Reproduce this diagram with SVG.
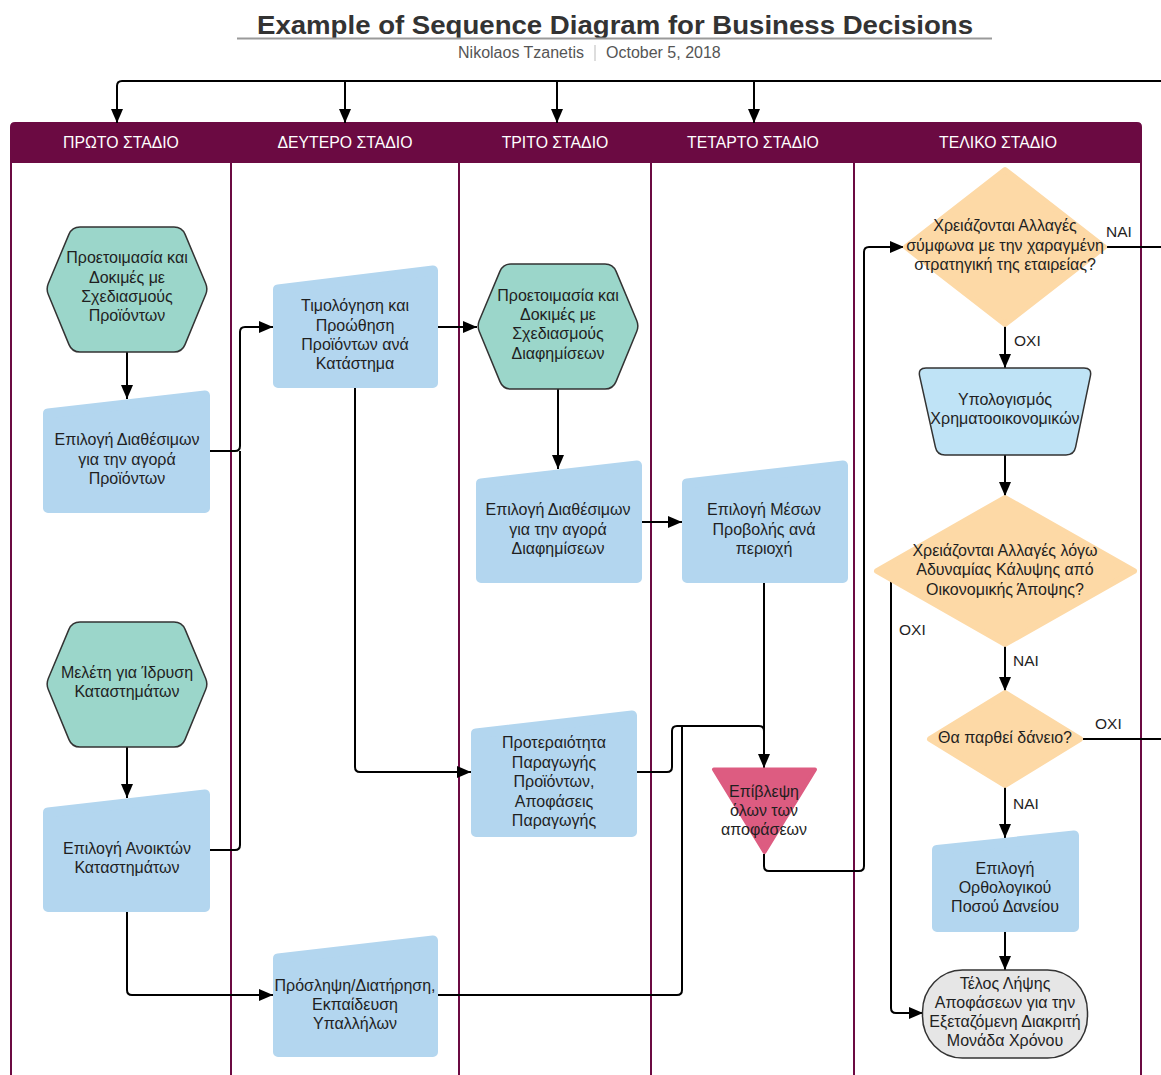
<svg xmlns="http://www.w3.org/2000/svg" width="1161" height="1075" viewBox="0 0 1161 1075">
<style>
text{font-family:"Liberation Sans",Arial,sans-serif;}
.t{font-size:16px;fill:#1f1f1f;text-anchor:middle;}
.lbl{font-size:15.5px;fill:#1f1f1f;}
.hd{font-size:15.8px;fill:#ffffff;text-anchor:middle;}
.lane{stroke:#6b0a42;stroke-width:2;fill:none;}
.hex{fill:#9bd6ca;stroke:#333;stroke-width:1.5;}
.mi{fill:#b3d6ef;stroke:#b3d6ef;stroke-width:10;stroke-linejoin:round;}
.dia{fill:#fdd9a6;stroke:#fdd9a6;stroke-width:6;stroke-linejoin:round;}
.c{fill:none;stroke:#000;stroke-width:2;}
.ca{fill:none;stroke:#000;stroke-width:2;marker-end:url(#ah);}
</style>
<defs>
<marker id="ah" markerUnits="userSpaceOnUse" viewBox="0 0 14 12" refX="14" refY="6" markerWidth="14" markerHeight="12" orient="auto">
<path d="M0,0 L14,6 L0,12 Z" fill="#000"/>
</marker>
<path id="hexshape" d="M34,0 L128,0 Q136,0 139.1,7.4 L159.7,56.5 Q162,62 159.7,67.5 L139,117.6 Q136,125 128,125 L34,125 Q26,125 23,117.6 L2.3,67.5 Q0,62 2.3,56.5 L22.9,7.4 Q26,0 34,0 Z"/>
</defs>
<rect x="0" y="0" width="1161" height="1075" fill="#ffffff"/>

<g id="title">
<text x="615" y="34" font-size="26" font-weight="bold" fill="#333" text-anchor="middle" textLength="716" lengthAdjust="spacingAndGlyphs">Example of Sequence Diagram for Business Decisions</text>
<line x1="237" y1="38.5" x2="992" y2="38.5" stroke="#9a9a9a" stroke-width="2"/>
<text x="584" y="58" font-size="16" fill="#555" text-anchor="end">Nikolaos Tzanetis</text>
<line x1="595" y1="45" x2="595" y2="61" stroke="#bbb" stroke-width="1"/>
<text x="606" y="58" font-size="16" fill="#555">October 5, 2018</text>
</g>

<g id="lanes">
<path d="M10,163 L10,127 Q10,122 15,122 L1137,122 Q1142,122 1142,127 L1142,163 Z" fill="#6b0a42"/>
<line class="lane" x1="11" y1="162" x2="11" y2="1075"/>
<line class="lane" x1="231" y1="162" x2="231" y2="1075"/>
<line class="lane" x1="459" y1="162" x2="459" y2="1075"/>
<line class="lane" x1="651" y1="162" x2="651" y2="1075"/>
<line class="lane" x1="854" y1="162" x2="854" y2="1075"/>
<line class="lane" x1="1141" y1="162" x2="1141" y2="1075"/>
<text class="hd" x="121" y="148">ΠΡΩΤΟ ΣΤΑΔΙΟ</text>
<text class="hd" x="345" y="148">ΔΕΥΤΕΡΟ ΣΤΑΔΙΟ</text>
<text class="hd" x="555" y="148">ΤΡΙΤΟ ΣΤΑΔΙΟ</text>
<text class="hd" x="753" y="148">ΤΕΤΑΡΤΟ ΣΤΑΔΙΟ</text>
<text class="hd" x="998" y="148">ΤΕΛΙΚΟ ΣΤΑΔΙΟ</text>
</g>

<g id="connectors">
<path class="ca" d="M1161,81 L122,81 Q117,81 117,86 L117,123"/>
<path class="ca" d="M345,81 L345,123"/>
<path class="ca" d="M557,81 L557,123"/>
<path class="ca" d="M754,81 L754,123"/>
<path class="ca" d="M127,352 L127,399"/>
<path class="ca" d="M127,747 L127,798"/>
<path class="ca" d="M210,451 L235,451 Q240,451 240,446 L240,332 Q240,327 245,327 L273,327"/>
<path class="c" d="M210,850 L235,850 Q240,850 240,845 L240,451"/>
<path class="ca" d="M438,327 L477,327"/>
<path class="ca" d="M355,388 L355,767 Q355,772 360,772 L471,772"/>
<path class="ca" d="M558,388 L558,469"/>
<path class="ca" d="M642,522 L682,522"/>
<path class="ca" d="M764,583 L764,768"/>
<path class="c" d="M637,772 L667,772 Q672,772 672,767 L672,731 Q672,726 677,726 L759,726 Q764,726 764,731 L764,740"/>
<path class="c" d="M438,995 L677,995 Q682,995 682,990 L682,726"/>
<path class="ca" d="M127,912 L127,990 Q127,995 132,995 L273,995"/>
<path class="ca" d="M764,854 L764,866 Q764,871 769,871 L859,871 Q864,871 864,866 L864,252 Q864,247 869,247 L904,247"/>
<path class="c" d="M1106,247 L1161,247"/>
<path class="ca" d="M1005,326 L1005,368"/>
<path class="ca" d="M1005,455 L1005,496"/>
<path class="ca" d="M1005,646 L1005,691"/>
<path class="ca" d="M891,581 L891,1008 Q891,1013 896,1013 L923,1013"/>
<path class="c" d="M1083,739 L1161,739"/>
<path class="ca" d="M1005,787 L1005,838"/>
<path class="ca" d="M1005,932 L1005,970"/>
<text class="lbl" x="1106" y="237">NAI</text>
<text class="lbl" x="1014" y="346">OXI</text>
<text class="lbl" x="899" y="635">OXI</text>
<text class="lbl" x="1013" y="666">NAI</text>
<text class="lbl" x="1095" y="729">OXI</text>
<text class="lbl" x="1013" y="809">NAI</text>
</g>

<g id="n-hex1">
<use href="#hexshape" class="hex" transform="translate(46,227)"/>
<text class="t" x="127" y="263">Προετοιμασία και</text>
<text class="t" x="127" y="283">Δοκιμές με</text>
<text class="t" x="127" y="302">Σχεδιασμούς</text>
<text class="t" x="127" y="321">Προϊόντων</text>
</g>
<g id="n-avail-products">
<polygon class="mi" points="48,413.5 205,395.5 205,508 48,508"/>
<text class="t" x="127" y="445">Επιλογή Διαθέσιμων</text>
<text class="t" x="127" y="465">για την αγορά</text>
<text class="t" x="127" y="484">Προϊόντων</text>
</g>
<g id="n-hex-stores">
<use href="#hexshape" class="hex" transform="translate(46,622)"/>
<text class="t" x="127" y="678">Μελέτη για Ίδρυση</text>
<text class="t" x="127" y="697">Καταστημάτων</text>
</g>
<g id="n-open-stores">
<polygon class="mi" points="48,812.5 205,794.5 205,907 48,907"/>
<text class="t" x="127" y="854">Επιλογή Ανοικτών</text>
<text class="t" x="127" y="873">Καταστημάτων</text>
</g>
<g id="n-pricing">
<polygon class="mi" points="278,289.5 433,270.5 433,383 278,383"/>
<text class="t" x="355" y="311">Τιμολόγηση και</text>
<text class="t" x="355" y="331">Προώθηση</text>
<text class="t" x="355" y="350">Προϊόντων ανά</text>
<text class="t" x="355" y="369">Κατάστημα</text>
</g>
<g id="n-hiring">
<polygon class="mi" points="278,958.5 433,940.5 433,1052 278,1052"/>
<text class="t" x="355" y="991">Πρόσληψη/Διατήρηση,</text>
<text class="t" x="355" y="1010">Εκπαίδευση</text>
<text class="t" x="355" y="1029">Υπαλλήλων</text>
</g>
<g id="n-hex-ads">
<use href="#hexshape" class="hex" transform="translate(477,264)"/>
<text class="t" x="558" y="301">Προετοιμασία και</text>
<text class="t" x="558" y="320">Δοκιμές με</text>
<text class="t" x="558" y="339">Σχεδιασμούς</text>
<text class="t" x="558" y="359">Διαφημίσεων</text>
</g>
<g id="n-avail-ads">
<polygon class="mi" points="481,483.5 637,465.5 637,578 481,578"/>
<text class="t" x="558" y="515">Επιλογή Διαθέσιμων</text>
<text class="t" x="558" y="535">για την αγορά</text>
<text class="t" x="558" y="554">Διαφημίσεων</text>
</g>
<g id="n-production">
<polygon class="mi" points="476,733.5 632,715.5 632,832 476,832"/>
<text class="t" x="554" y="748">Προτεραιότητα</text>
<text class="t" x="554" y="768">Παραγωγής</text>
<text class="t" x="554" y="787">Προϊόντων,</text>
<text class="t" x="554" y="807">Αποφάσεις</text>
<text class="t" x="554" y="826">Παραγωγής</text>
</g>
<g id="n-media">
<polygon class="mi" points="687,483.5 843,465.5 843,578 687,578"/>
<text class="t" x="764" y="515">Επιλογή Μέσων</text>
<text class="t" x="764" y="535">Προβολής ανά</text>
<text class="t" x="764" y="554">περιοχή</text>
</g>
<g id="n-supervision">
<polygon points="714,769.5 815,769.5 764.5,852" fill="#dd5c81" stroke="#dd5c81" stroke-width="4" stroke-linejoin="round"/>
<text class="t" x="764" y="797">Επίβλεψη</text>
<text class="t" x="764" y="816">όλων των</text>
<text class="t" x="764" y="835">αποφάσεων</text>
</g>
<g id="n-strategy">
<polygon class="dia" points="1005,170 1104,247 1005,324 906,247"/>
<text class="t" x="1005" y="231">Χρειάζονται Αλλαγές</text>
<text class="t" x="1005" y="251">σύμφωνα με την χαραγμένη</text>
<text class="t" x="1005" y="270">στρατηγική της εταιρείας?</text>
</g>
<g id="n-finance">
<path d="M926,368 L1084,368 Q1092,368 1090.4,375.8 L1075.6,447.2 Q1074,455 1066,455 L945,455 Q937,455 935.4,447.2 L919.6,375.8 Q918,368 926,368 Z" fill="#bfe3f6" stroke="#333" stroke-width="1.5"/>
<text class="t" x="1005" y="405">Υπολογισμός</text>
<text class="t" x="1005" y="424">Χρηματοοικονομικών</text>
</g>
<g id="n-weakness">
<polygon class="dia" points="1005,498 1134,571 1005,644 877,571"/>
<text class="t" x="1005" y="556">Χρειάζονται Αλλαγές λόγω</text>
<text class="t" x="1005" y="575">Αδυναμίας Κάλυψης από</text>
<text class="t" x="1005" y="595">Οικονομικής Άποψης?</text>
</g>
<g id="n-loan">
<polygon class="dia" points="1005,693 1080,739 1005,785 930,739"/>
<text class="t" x="1005" y="743">Θα παρθεί δάνειο?</text>
</g>
<g id="n-loan-amount">
<polygon class="mi" points="937,850 1074,835.5 1074,927 937,927"/>
<text class="t" x="1005" y="874">Επιλογή</text>
<text class="t" x="1005" y="893">Ορθολογικού</text>
<text class="t" x="1005" y="912">Ποσού Δανείου</text>
</g>
<g id="n-end">
<rect x="922.5" y="970" width="165" height="88" rx="40" ry="42" fill="#e6e6e6" stroke="#333" stroke-width="1.5"/>
<text class="t" x="1005" y="989">Τέλος Λήψης</text>
<text class="t" x="1005" y="1008">Αποφάσεων για την</text>
<text class="t" x="1005" y="1027">Εξεταζόμενη Διακριτή</text>
<text class="t" x="1005" y="1046">Μονάδα Χρόνου</text>
</g>
</svg>
